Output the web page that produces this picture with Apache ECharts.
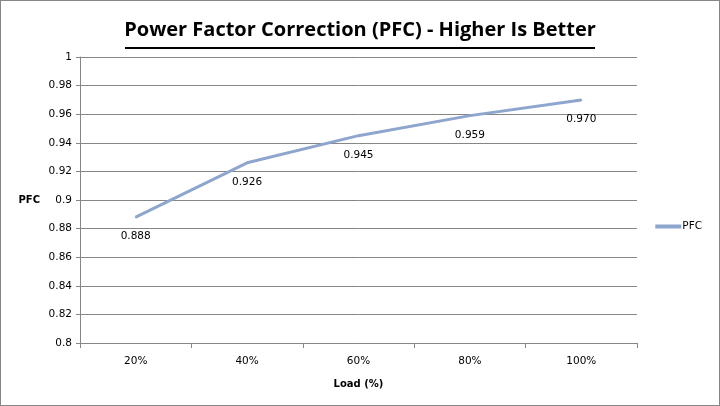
<!DOCTYPE html>
<html><head><meta charset="utf-8">
<script src="https://cdn.jsdelivr.net/npm/echarts@6/dist/echarts.min.js"></script>
<style>html,body{margin:0;padding:0;background:#fff}#c{width:720px;height:406px;box-sizing:border-box;border:1px solid #868686}</style>
</head><body><div id="c"></div>
<script>
var categories = ['20%', '40%', '60%', '80%', '100%'];
var pfcValues = [0.888, 0.926, 0.945, 0.959, 0.970];
var yTicks = {min: 0.8, max: 1, interval: 0.02};
var chart = echarts.init(document.getElementById('c'), null, {renderer: 'canvas'});
chart.setOption({
  animation: false,
  title: {
    text: 'Power Factor Correction (PFC) - Higher Is Better',
    left: 'center', top: 14,
    textStyle: {fontFamily: 'Open Sans', fontWeight: 'bold', fontSize: 20, color: '#000'}
  },
  graphic: [{type: 'rect', shape: {x: 124, y: 46, width: 470, height: 2}, style: {fill: '#000'}}],
  legend: {
    right: 12, top: 215, orient: 'vertical',
    itemWidth: 26, itemHeight: 4, itemGap: 4, icon: 'rect',
    textStyle: {fontFamily: 'DejaVu Sans', fontSize: 10.5, color: '#000', padding: [0,0,0,-4]},
    data: ['PFC']
  },
  grid: {left: 79, right: 82, top: 56, bottom: 62, containLabel: false},
  xAxis: {
    type: 'category', data: categories, boundaryGap: true,
    name: 'Load (%)', nameLocation: 'middle', nameGap: 36,
    nameTextStyle: {fontFamily: 'DejaVu Sans', fontWeight: 'bold', fontSize: 10, color: '#000'},
    axisLine: {lineStyle: {color: '#868686', width: 1}},
    axisTick: {show: true, alignWithLabel: false, length: 5, lineStyle: {color: '#868686'}},
    axisLabel: {fontFamily: 'DejaVu Sans', fontSize: 10.5, color: '#000', margin: 13}
  },
  yAxis: {
    type: 'value', min: yTicks.min, max: yTicks.max, interval: yTicks.interval,
    name: 'PFC', nameLocation: 'middle', nameGap: 40, nameRotate: 0,
    nameTextStyle: {fontFamily: 'DejaVu Sans', fontWeight: 'bold', fontSize: 10, color: '#000'},
    axisLine: {show: true, lineStyle: {color: '#868686', width: 1}},
    axisTick: {show: true, length: 4, lineStyle: {color: '#868686'}},
    axisLabel: {fontFamily: 'DejaVu Sans', fontSize: 10.5, color: '#000', margin: 8,
      formatter: function(v){ return String(parseFloat(v.toFixed(2))); }},
    splitLine: {show: true, lineStyle: {color: '#868686', width: 1}}
  },
  series: [{
    name: 'PFC', type: 'line', data: pfcValues, symbol: 'circle', symbolSize: 2, showSymbol: true,
    lineStyle: {color: '#8EA5CE', width: 3}, itemStyle: {color: '#8EA5CE', borderWidth: 0},
    labelLayout: {hideOverlap: false},
    label: {show: true, position: 'bottom', distance: 13, fontFamily: 'DejaVu Sans', fontSize: 10.5, color: '#000',
      formatter: function(p){ return p.value.toFixed(3); }}
  }]
});
</script></body></html>
